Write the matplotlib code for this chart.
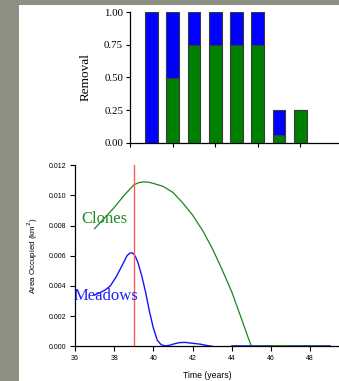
import matplotlib
matplotlib.use("Agg")
import matplotlib.pyplot as plt
from matplotlib.patches import Rectangle

# ---- removal schedule (stacked bars) ----
bar_pos = [1, 2, 3, 4, 5, 6, 7, 8]
removal_green = [0.0, 0.50, 0.75, 0.75, 0.75, 0.75, 0.06, 0.25]
removal_blue = [1.0, 0.50, 0.25, 0.25, 0.25, 0.25, 0.19, 0.0]
removal_ticks = [0.00, 0.25, 0.50, 0.75, 1.00]

# ---- area occupied over time ----
clones_t = [37.0, 37.5, 38.0, 38.5, 39.0, 39.25, 39.5, 39.75, 40.0, 40.5, 41.0,
            41.5, 42.0, 42.5, 43.0, 43.5, 44.0, 44.5, 44.8, 45.0,
            46.0, 46.2, 46.5, 46.8, 47.0, 49.0]
clones_a = [0.0078, 0.0085, 0.0092, 0.0100, 0.0107, 0.01085, 0.0109, 0.01088,
            0.0108, 0.0106, 0.0102, 0.0095, 0.0087, 0.0077, 0.0065, 0.0051,
            0.0036, 0.0018, 0.0007, 0.0,
            0.0, 0.00004, 0.00005, 0.00004, 0.0, 0.0]

meadow_t1 = [37.0, 37.5, 37.8, 38.1, 38.3, 38.5, 38.65, 38.8, 38.9, 39.0, 39.1,
             39.2, 39.4, 39.6, 39.8, 40.0, 40.2, 40.4, 40.6, 40.8, 41.0, 41.3,
             41.6, 42.0, 42.4, 42.7, 43.0]
meadow_a1 = [0.0034, 0.0037, 0.0040, 0.0046, 0.0051, 0.0056, 0.0060, 0.00618,
             0.0062, 0.00612, 0.0059, 0.0056, 0.0047, 0.0036, 0.0023, 0.0012,
             0.0004, 0.0001, 0.00003, 0.00006, 0.00014, 0.00024, 0.00026,
             0.0002, 0.00014, 0.00006, 0.0]
meadow_t2 = [44.0, 49.0]
meadow_a2 = [0.0, 0.0]

event_year = 39.0
time_ticks = [36, 38, 40, 42, 44, 46, 48]
area_ticks = [0.000, 0.002, 0.004, 0.006, 0.008, 0.010, 0.012]

serif = "Liberation Serif"
sans = "Liberation Sans"

W, H = 339, 381
fig = plt.figure(figsize=(W / 100, H / 100), dpi=100)
fig.patch.set_facecolor("#8d9184")
fig.patches.append(Rectangle((19 / W, 0), 1 - 19 / W, 1 - 5 / H,
                             transform=fig.transFigure, facecolor="white",
                             edgecolor="none", zorder=-10))

# ---- top panel ----
ax1 = fig.add_axes([130 / W, 1 - 143 / H, (W - 130) / W, 131 / H])
ax1.set_facecolor("none")
ax1.bar(bar_pos, removal_green, width=0.6, color="#008000",
        edgecolor="#3a3a3a", linewidth=0.8)
ax1.bar(bar_pos, removal_blue, width=0.6, bottom=removal_green, color="#0000ff",
        edgecolor="#3a3a3a", linewidth=0.8)
ax1.set_xlim(0, (W - 130) / 21.3)
ax1.set_ylim(0, 1)
ax1.set_xticks([0, 2, 4, 6, 8])
ax1.set_xticklabels([])
ax1.set_yticks(removal_ticks)
ax1.set_yticklabels([f"{v:.2f}" for v in removal_ticks], family=serif, fontsize=7.8)
ax1.tick_params(direction="out", length=3, width=0.8, pad=2)
ax1.set_ylabel("Removal", family=serif, fontsize=9.5, labelpad=9)
for s in ("top", "right"):
    ax1.spines[s].set_visible(False)
for s in ("left", "bottom"):
    ax1.spines[s].set_linewidth(0.9)

# ---- bottom panel ----
ax2 = fig.add_axes([75 / W, 1 - 346.3 / H, (W - 75) / W, 181 / H])
ax2.set_facecolor("none")
ax2.plot(clones_t, clones_a, color="#1c861c", lw=0.9, zorder=3)
ax2.plot(meadow_t1, meadow_a1, color="#1414ff", lw=1.0, zorder=4)
ax2.plot(meadow_t2, meadow_a2, color="#1414ff", lw=1.2, zorder=2, clip_on=False)
ax2.axvline(event_year, color="#ff5a5a", lw=1.0, zorder=5)
ax2.set_xlim(36, 36 + (W - 75) / 19.6)
ax2.set_ylim(0, 0.012)
ax2.set_xticks(time_ticks)
ax2.set_xticklabels([str(t) for t in time_ticks], family=sans, fontsize=5.0)
ax2.set_yticks(area_ticks)
ax2.set_yticklabels([f"{v:.3f}" for v in area_ticks], family=sans, fontsize=5.0)
ax2.tick_params(direction="out", length=3.5, width=0.8, pad=3)
ax2.set_xlabel("Time (years)", family=sans, fontsize=6.2, labelpad=6)
ax2.set_ylabel("Area Occupied (km$^2$)", family=sans, fontsize=5.8, labelpad=6)
for s in ("top", "right"):
    ax2.spines[s].set_visible(False)
for s in ("left", "bottom"):
    ax2.spines[s].set_linewidth(0.9)

ax2.text(36.34, 0.00844, "Clones", family=serif, fontsize=12, color="#238c23",
         ha="left", va="center", zorder=6, clip_on=False)
ax2.text(35.93, 0.00335, "Meadows", family=serif, fontsize=12, color="#2020ff",
         ha="left", va="center", zorder=6, clip_on=False)

fig.savefig("out.png", dpi=100, facecolor=fig.get_facecolor())
